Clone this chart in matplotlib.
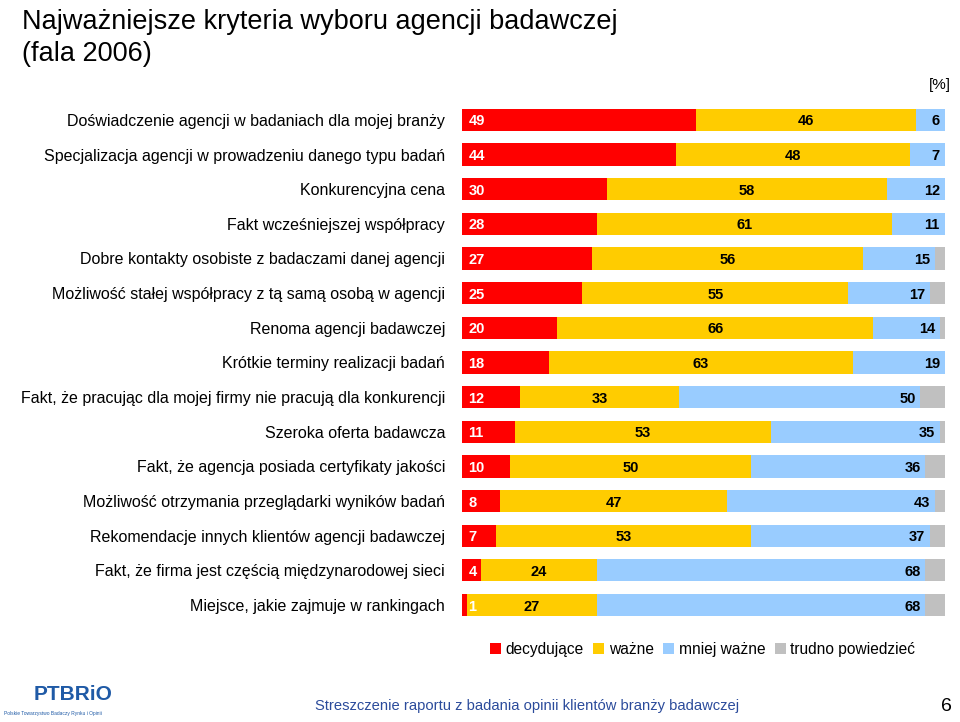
import matplotlib.pyplot as plt
import numpy as np

plt.rcParams['font.family'] = ['Liberation Sans', 'DejaVu Sans']

# Data
categories = [
    'Doświadczenie agencji w badaniach dla mojej branży',
    'Specjalizacja agencji w prowadzeniu danego typu badań',
    'Konkurencyjna cena',
    'Fakt wcześniejszej współpracy',
    'Dobre kontakty osobiste z badaczami danej agencji',
    'Możliwość stałej współpracy z tą samą osobą w agencji',
    'Renoma agencji badawczej',
    'Krótkie terminy realizacji badań',
    'Fakt, że pracując dla mojej firmy nie pracują dla konkurencji',
    'Szeroka oferta badawcza',
    'Fakt, że agencja posiada certyfikaty jakości',
    'Możliwość otrzymania przeglądarki wyników badań',
    'Rekomendacje innych klientów agencji badawczej',
    'Fakt, że firma jest częścią międzynarodowej sieci',
    'Miejsce, jakie zajmuje w rankingach',
]
decydujace = [49, 44, 30, 28, 27, 25, 20, 18, 12, 11, 10, 8, 7, 4, 1]
wazne = [46, 48, 58, 61, 56, 55, 66, 63, 33, 53, 50, 47, 53, 24, 27]
mniej_wazne = [6, 7, 12, 11, 15, 17, 14, 19, 50, 35, 36, 43, 37, 68, 68]
trudno = [0, 0, 0, 0, 2, 3, 1, 0, 5, 1, 4, 2, 3, 4, 4]

series = [decydujace, wazne, mniej_wazne, trudno]
names = ['decydujące', 'ważne', 'mniej ważne', 'trudno powiedzieć']
colors = ['#FF0000', '#FFCC00', '#99CCFF', '#C0C0C0']

vals = np.array(series, dtype=float)
shares = vals / vals.sum(axis=0) * 100  # bars fill 100%

fig = plt.figure(figsize=(9.6, 7.22), dpi=100)
ax = fig.add_axes([0.481, 0.138, 0.503, 0.72])

y = np.arange(len(categories))
left = np.zeros(len(categories))
for i, (s, c) in enumerate(zip(shares, colors)):
    ax.barh(y, s, left=left, color=c, height=0.64, label=names[i])
    for j in range(len(categories)):
        v = series[i][j]
        if i == 0:
            ax.text(left[j] + 1.4, y[j], str(v), color='white', fontsize=10.5,
                    fontweight='bold', va='center_baseline', ha='left')
        elif i == 1:
            ax.text(left[j] + s[j] / 2, y[j], str(v), color='black', fontsize=10.5,
                    fontweight='bold', va='center_baseline', ha='center')
        elif i == 2:
            ax.text(left[j] + s[j] - 1.0, y[j], str(v), color='black', fontsize=10.5,
                    fontweight='bold', va='center_baseline', ha='right')
    left += s

ax.set_xlim(0, 100)
ax.set_ylim(len(categories) - 0.5, -0.5)
ax.set_yticks(y)
ax.set_yticklabels(categories, fontsize=11.5)
ax.tick_params(axis='y', length=0, pad=12)
ax.set_xticks([])
for sp in ax.spines.values():
    sp.set_visible(False)

fig.text(0.99, 0.872, '[%]', fontsize=11, ha='right', va='bottom')

fig.text(0.023, 0.988, 'Najważniejsze kryteria wyboru agencji badawczej\n(fala 2006)',
         fontsize=19.5, ha='left', va='top', linespacing=1.3)

fig.legend(loc='center', bbox_to_anchor=(0.732, 0.101), ncol=4, frameon=False,
           fontsize=11.2, handlelength=0.7, handleheight=0.7, handletextpad=0.3,
           columnspacing=0.6)

# footer
fig.text(0.035, 0.025, 'PTBRiO', fontsize=15, fontweight='bold', color='#1F5AA6',
         ha='left', va='bottom')
fig.text(0.004, 0.008, 'Polskie Towarzystwo Badaczy Rynku i Opinii', fontsize=3.5,
         color='#1F5AA6', ha='left', va='bottom')
fig.text(0.549, 0.022, 'Streszczenie raportu z badania opinii klientów branży badawczej',
         fontsize=10.6, color='#2B4B9B', ha='center', va='center')
fig.text(0.992, 0.022, '6', fontsize=14, ha='right', va='center')

fig.savefig('out.png', dpi=100)
